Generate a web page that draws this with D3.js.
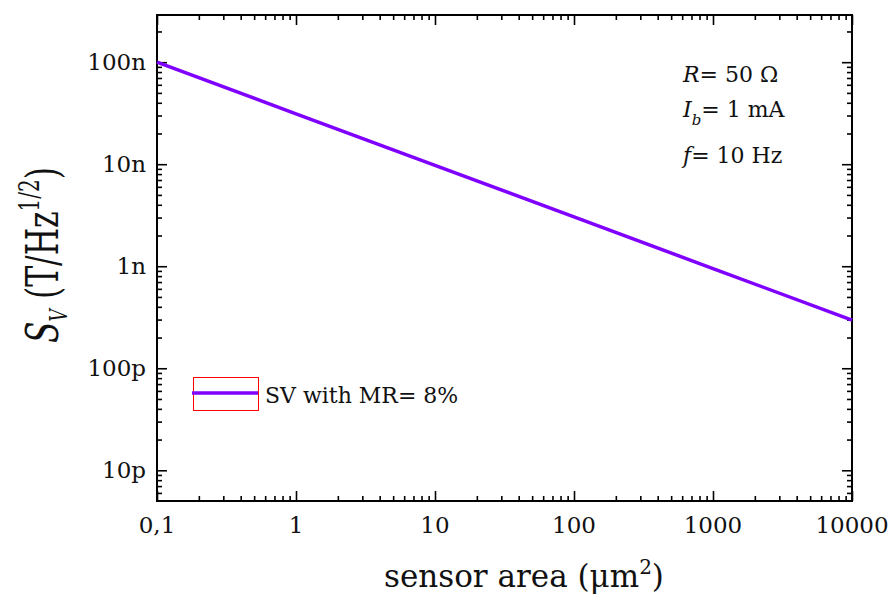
<!DOCTYPE html>
<html>
<head>
<meta charset="utf-8">
<script src="https://cdn.jsdelivr.net/npm/d3@7"></script>
<style>
  html, body { margin: 0; padding: 0; background: #fff; }
  svg { display: block; }
  text { font-family: "DejaVu Serif", "Liberation Serif", serif; fill: #111; }
</style>
</head>
<body>
<svg id="chart" width="893" height="601"></svg>
<script>
// Sensor area (µm²) and the corresponding field noise S_V (T/Hz^1/2)
const sensorArea = [0.1, 1, 10, 100, 1000, 10000];
const noiseSV = [1.0e-7, 3.12e-8, 9.75e-9, 3.04e-9, 9.49e-10, 2.96e-10];

const xTickValues = [0.1, 1, 10, 100, 1000, 10000];
const xTickLabels = ["0,1", "1", "10", "100", "1000", "10000"];
const yTickValues = [1e-11, 1e-10, 1e-9, 1e-8, 1e-7];
const yTickLabels = ["10p", "100p", "1n", "10n", "100n"];

const seriesName = "SV with MR= 8%";
const lineColor = "#8000ff";

const svg = d3.select("#chart");
const plot = { left: 157, right: 852, top: 15, bottom: 501 };

const x = d3.scaleLog().domain([0.1, 10000]).range([plot.left, plot.right]);
const y = d3.scaleLog().domain([5e-12, 2.9e-7]).range([plot.bottom, plot.top]);

// minor tick positions (2..9 within each decade)
function minorTicks(scale) {
  const [a, b] = scale.domain();
  const out = [];
  for (let e = Math.floor(Math.log10(a)); e <= Math.ceil(Math.log10(b)); e++) {
    for (let m = 2; m <= 9; m++) {
      const v = m * Math.pow(10, e);
      if (v > a * 1.0001 && v < b * 0.9999) out.push(v);
    }
  }
  return out;
}

const g = svg.append("g");

// inward ticks on all four sides
function addAxis(axisFn, scale, transform, values, size) {
  const ax = axisFn(scale).tickValues(values).tickSize(size).tickFormat("");
  const sel = g.append("g").attr("transform", transform).call(ax);
  sel.select(".domain").remove();
  sel.selectAll("line").attr("stroke", "#000").attr("stroke-width", 1.6);
}
const xMinor = minorTicks(x), yMinor = minorTicks(y);
addAxis(d3.axisTop, x, `translate(0,${plot.bottom})`, xTickValues, 10);
addAxis(d3.axisTop, x, `translate(0,${plot.bottom})`, xMinor, 5);
addAxis(d3.axisBottom, x, `translate(0,${plot.top})`, xTickValues, 10);
addAxis(d3.axisBottom, x, `translate(0,${plot.top})`, xMinor, 5);
addAxis(d3.axisRight, y, `translate(${plot.left},0)`, yTickValues, 10);
addAxis(d3.axisRight, y, `translate(${plot.left},0)`, yMinor, 5);
addAxis(d3.axisLeft, y, `translate(${plot.right},0)`, yTickValues, 10);
addAxis(d3.axisLeft, y, `translate(${plot.right},0)`, yMinor, 5);

// frame
g.append("rect")
  .attr("x", plot.left).attr("y", plot.top)
  .attr("width", plot.right - plot.left).attr("height", plot.bottom - plot.top)
  .attr("fill", "none").attr("stroke", "#000").attr("stroke-width", 2);

// tick labels
g.selectAll(".xlab").data(xTickValues).join("text")
  .attr("class", "xlab")
  .attr("x", d => x(d)).attr("y", 533)
  .attr("text-anchor", "middle")
  .style("font-size", "23px")
  .text((d, i) => xTickLabels[i]);

g.selectAll(".ylab").data(yTickValues).join("text")
  .attr("class", "ylab")
  .attr("x", 146).attr("y", d => y(d) + 8)
  .attr("text-anchor", "end")
  .style("font-size", "23px")
  .text((d, i) => yTickLabels[i]);

// data line
const line = d3.line().x(d => x(d[0])).y(d => y(d[1]));
g.append("path")
  .datum(sensorArea.map((a, i) => [a, noiseSV[i]]))
  .attr("d", line)
  .attr("fill", "none")
  .attr("stroke", lineColor)
  .attr("stroke-width", 3.5);

// axis titles
const xt = g.append("text")
  .attr("x", 524).attr("y", 587)
  .attr("text-anchor", "middle")
  .style("font-size", "31px");
xt.append("tspan").text("sensor area (\u03bcm");
xt.append("tspan").attr("dy", -13).style("font-size", "20px").text("2");
xt.append("tspan").attr("dy", 13).text(")");

// y title: tall glyphs, condensed along the text direction
const yt = g.append("text")
  .attr("text-anchor", "middle")
  .style("font-size", "44px");
yt.append("tspan").style("font-style", "italic").text("S");
yt.append("tspan").attr("dy", 9).style("font-style", "italic").style("font-size", "24px").text("V");
yt.append("tspan").attr("dy", -9).text(" (T/Hz");
yt.append("tspan").attr("dy", -19).style("font-size", "28px").text("1/2");
yt.append("tspan").attr("dy", 19).text(")");
const ytLen = yt.node().getComputedTextLength();
const ytScale = 176 / ytLen;
yt.attr("transform", `translate(58,255) rotate(-90) scale(${ytScale},1)`);

// parameter annotations
const ann = g.append("g").style("font-size", "22px");
const r = ann.append("text").attr("x", 683).attr("y", 82);
r.append("tspan").style("font-style", "italic").text("R");
r.append("tspan").text("= 50 \u03a9");
const ib = ann.append("text").attr("x", 683).attr("y", 117);
ib.append("tspan").style("font-style", "italic").text("I");
ib.append("tspan").attr("dy", 8).style("font-style", "italic").style("font-size", "15px").text("b");
ib.append("tspan").attr("dy", -8).text("= 1 mA");
const f = ann.append("text").attr("x", 683).attr("y", 163);
f.append("tspan").style("font-style", "italic").text("f");
f.append("tspan").text("= 10 Hz");

// legend
const lg = g.append("g");
lg.append("rect")
  .attr("x", 193.5).attr("y", 377.5).attr("width", 65).attr("height", 33)
  .attr("fill", "none").attr("stroke", "#ff0000").attr("stroke-width", 1);
lg.append("line")
  .attr("x1", 192).attr("x2", 258).attr("y1", 393).attr("y2", 393)
  .attr("stroke", lineColor).attr("stroke-width", 3.5);
lg.append("text")
  .attr("x", 265).attr("y", 403)
  .style("font-size", "22px")
  .text(seriesName);
</script>
</body>
</html>
